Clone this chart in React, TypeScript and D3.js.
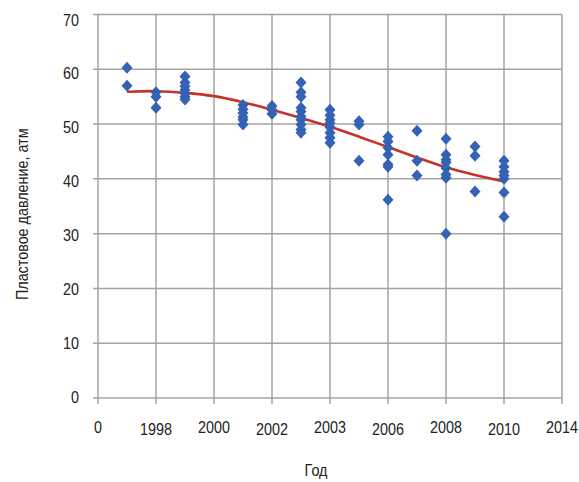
import React from "react";
import * as d3 from "d3";

const xTickLabels = ["0", "1998", "2000", "2002", "2003", "2006", "2008", "2010", "2014"];
const yTicks = [0, 10, 20, 30, 40, 50, 60, 70];

const groupX = [0.5, 1, 1.5, 2.5, 3, 3.5, 4, 4.5, 5, 5.5, 6, 6.5, 7];
const groupValues: number[][] = [
  [60.3, 57.0],
  [55.8, 55.0, 53.0],
  [58.7, 57.6, 56.9, 56.2, 55.6, 55.0, 54.5],
  [53.5, 52.7, 52.0, 51.3, 50.8, 49.9],
  [53.3, 52.6, 51.9],
  [57.6, 55.8, 55.0, 53.0, 52.3, 51.4, 50.8, 49.9, 49.0, 48.4],
  [52.6, 51.6, 50.8, 50.2, 49.4, 48.4, 47.5, 46.6],
  [50.5, 49.9, 43.3],
  [47.7, 46.8, 45.7, 44.4, 42.6, 42.2, 36.2],
  [48.8, 43.3, 40.6],
  [47.3, 44.4, 43.5, 43.0, 42.0, 40.8, 40.2, 30.0],
  [45.9, 44.2, 37.7],
  [43.3, 42.2, 41.3, 40.6, 40.0, 37.5, 33.1],
];

const trendX = [0.5, 1, 1.5, 2, 2.5, 3, 3.5, 4, 4.5, 5, 5.5, 6, 6.5, 7];
const trendY = [55.9, 56.0, 55.7, 55.1, 54.0, 52.6, 51.1, 49.5, 47.7, 45.8, 43.9, 42.1, 40.7, 39.5];

const W = 579;
const H = 482;
const FONT = "'Liberation Sans Narrow', 'Arial Narrow', 'Liberation Sans', Arial, sans-serif";
const SX = 0.87;

function T({ x, y, anchor, rotate, children }: { x: number; y: number; anchor: string; rotate?: number; children: React.ReactNode }) {
  return (
    <text
      transform={`translate(${x},${y}) rotate(${rotate || 0}) scale(${SX},1)`}
      textAnchor={anchor}
      fontSize={16.5}
      fill="#222"
    >
      {children}
    </text>
  );
}

export default function App() {
  const x = d3.scaleLinear().domain([0, 8]).range([98, 562]);
  const y = d3.scaleLinear().domain([0, 70]).range([398, 14.5]);
  const gridColor = "#a3a3a3";

  const points: { x: number; v: number }[] = [];
  groupX.forEach((gx, i) => groupValues[i].forEach((v) => points.push({ x: gx, v })));

  const line = d3
    .line<number>()
    .x((_, i) => x(trendX[i]))
    .y((d) => y(d))
    .curve(d3.curveCatmullRom.alpha(0.5));

  const diamond = "M0,-6L5.5,0L0,6L-5.5,0Z";

  return (
    <svg
      width={W}
      height={H}
      style={{ position: "absolute", left: 0, top: 0, background: "#fff" }}
      fontFamily={FONT}
    >
      <rect x={0} y={0} width={W} height={H} fill="#fff" />
      {yTicks.map((t) => (
        <g key={"y" + t}>
          <line x1={x(0) - 5} x2={x(8)} y1={y(t)} y2={y(t)} stroke={gridColor} strokeWidth={1.5} />
          <T x={79} y={y(t) + 6 * (t / 70) + 5} anchor="end">
            {t}
          </T>
        </g>
      ))}
      {xTickLabels.map((lab, i) => (
        <g key={"x" + i}>
          <line x1={x(i)} x2={x(i)} y1={y(70)} y2={y(0) + 6} stroke={gridColor} strokeWidth={1.5} />
          <T x={x(i)} y={i % 2 === 0 ? 433 : 435} anchor="middle">
            {lab}
          </T>
        </g>
      ))}
      <path d={line(trendY) || ""} fill="none" stroke="#c8312a" strokeWidth={2.6} />
      {points.map((p, i) => (
        <path key={i} d={diamond} transform={`translate(${x(p.x)},${y(p.v)})`} fill="#3462b4" />
      ))}
      <T x={316} y={476} anchor="middle">
        Год
      </T>
      <T x={28} y={y(35) + 8} anchor="middle" rotate={-90}>
        Пластовое давление, атм
      </T>
    </svg>
  );
}
